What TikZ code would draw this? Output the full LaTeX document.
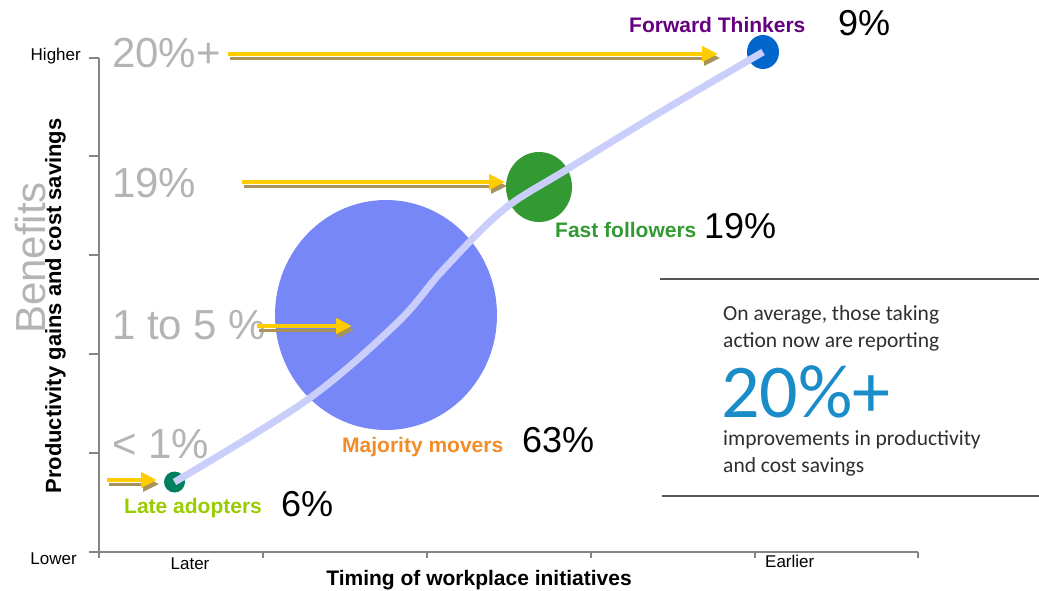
\documentclass[tikz,border=0pt]{standalone}
\usepackage{fontspec}
\setmainfont{Liberation Sans}
\newfontfamily\boxfont{Carlito}
\usepackage{xcolor}
\usetikzlibrary{arrows.meta,shapes.geometric,positioning}

\definecolor{axisgray}{HTML}{858585}
\definecolor{lvlgray}{HTML}{B4B4B4}
\definecolor{ftblue}{HTML}{0066CC}
\definecolor{ffgreen}{HTML}{339933}
\definecolor{mmblue}{HTML}{7787F7}
\definecolor{ladot}{HTML}{00805F}
\definecolor{curveblue}{HTML}{C9CFFA}
\definecolor{ftpurple}{HTML}{660080}
\definecolor{mmorange}{HTML}{F28C28}
\definecolor{latext}{HTML}{99CC00}
\definecolor{arrowyellow}{HTML}{FFCC00}
\definecolor{shadowbrown}{HTML}{A89458}
\definecolor{rulegray}{HTML}{555555}
\definecolor{boxtext}{HTML}{2E2E2E}
\definecolor{boxblue}{HTML}{1A8CC8}

\tikzset{
  fsize/.style={font=\fontsize{#1}{#1}\selectfont},
  axis/.style={draw=axisgray, line width=2pt},
  axlbl/.style={fsize=17, inner sep=0pt},
  axtitle/.style={font=\fontsize{21}{21}\selectfont\bfseries, inner sep=0pt},
  lvl/.style={fsize=42, text=lvlgray, inner sep=0pt},
  blob/.style={ellipse, inner sep=0pt, draw=none},
  cat/.style={font=\fontsize{21}{21}\selectfont\bfseries, inner sep=0pt},
  pct/.style={fsize=36, inner sep=0pt},
  yarrow/.style={draw=arrowyellow, line width=4pt, -{Triangle[length=16pt,width=15pt]}},
  yshadow/.style={draw=shadowbrown, line width=3pt, -{Triangle[length=16pt,width=15pt]},
    transform canvas={shift={(2pt,-4pt)}}},
  curve/.style={draw=curveblue, line width=7pt},
  rule/.style={draw=rulegray, line width=2pt},
  boxtxt/.style={font=\boxfont\fontsize{21.5}{21.5}\selectfont, text=boxtext, inner sep=0pt}
}

\begin{document}
\begin{tikzpicture}[x=1pt, y=-1pt, line join=round]
\useasboundingbox (0,0) rectangle (1039,590);

% axes
\coordinate (top) at (99,58);
\coordinate (o) at (99,552);
\coordinate (xend) at (918,552);
\draw[axis] (top) -- (o) -- (xend);
\foreach \y in {58,156,255,354,453,552} \draw[axis] (89,\y) -- (99,\y);
\foreach \x in {99,263,427,591,755,918} \draw[axis] (\x,552) -- (\x,558);

\node[axlbl, anchor=base east] (hi) at (81,60) {Higher};
\node[axlbl, anchor=base east] (lo) at (77,564) {Lower};
\node[axlbl, anchor=base] (later) at (190,569) {Later};
\node[axlbl, anchor=base west] (earlier) at (765,567) {Earlier};
\node[axtitle, anchor=base] (xtitle) at (479,585) {Timing of workplace initiatives};
\node[axtitle, font=\fontsize{22}{22}\selectfont\bfseries, rotate=90, anchor=base] (ytitle) at (61,306) {Productivity gains and cost savings};
\node[lvl, rotate=90, anchor=base] (benefits) at (45,258) {Benefits};

% benefit levels
\node[lvl, anchor=base west] (l20) at (112,67) {20\%+};
\node[lvl, anchor=base west] (l19) at (112,197) {19\%};
\node[lvl, anchor=base west] (l15) at (112,339) {1 to 5 \%};
\node[lvl, anchor=base west] (l1) at (112,458) {< 1\%};

% groups
\node[blob, fill=mmblue, minimum width=222pt, minimum height=230pt] (mm) at (386,315) {};
\node[blob, fill=ffgreen, minimum width=66pt, minimum height=70pt] (ff) at (539,187) {};
\node[blob, fill=ftblue, minimum width=32pt, minimum height=34pt] (ft) at (763,52) {};
\node[blob, fill=ladot, minimum width=21pt, minimum height=21pt] (la) at (174.5,482) {};

\draw[curve] plot[smooth, tension=0.55] coordinates {(la.center) (307,400) (397,323) (443,270)
  (503,210) (566,170) (659,113) (ft.center)};

\node[cat, text=ftpurple, anchor=base west] (ftlbl) at (629,32) {Forward Thinkers};
\node[pct, anchor=base west] (ftpct) at (838,35) {9\%};
\node[cat, text=ffgreen, anchor=base west] (fflbl) at (555,237) {Fast followers};
\node[pct, anchor=base west] (ffpct) at (704,238) {19\%};
\node[cat, text=mmorange, anchor=base west] (mmlbl) at (342,452) {Majority movers};
\node[pct, anchor=base west] (mmpct) at (522,452) {63\%};
\node[cat, text=latext, anchor=base west] (lalbl) at (124,513) {Late adopters};
\node[pct, anchor=base west] (lapct) at (281,516) {6\%};

% yellow arrows
\coordinate (a1s) at (228,54);  \coordinate (a1e) at (718,54);
\coordinate (a2s) at (242,182); \coordinate (a2e) at (505,182);
\coordinate (a3s) at (257,326); \coordinate (a3e) at (352,326);
\coordinate (a4s) at (107,480); \coordinate (a4e) at (157,480);
\foreach \s/\e in {a1s/a1e, a2s/a2e, a3s/a3e, a4s/a4e} {
  \draw[yshadow] (\s) -- (\e);
  \draw[yarrow] (\s) -- (\e);
}

% side box
\coordinate (bxtl) at (660,279); \coordinate (bxtr) at (1039,279);
\coordinate (bxbl) at (662,496); \coordinate (bxbr) at (1039,496);
\draw[rule] (bxtl) -- (bxtr);
\draw[rule] (bxbl) -- (bxbr);
\node[boxtxt, anchor=base west] (bt1) at (723,320) {On average, those taking};
\node[boxtxt, anchor=base west] (bt2) at (723,347) {action now are reporting};
\node[boxtxt, anchor=base west, text=boxblue, text depth=0pt, font=\boxfont\fontsize{76}{76}\selectfont] (bt3) at (721,417) {20\%+};
\node[boxtxt, anchor=base west] (bt4) at (723,445) {improvements in productivity};
\node[boxtxt, anchor=base west] (bt5) at (723,472) {and cost savings};

\end{tikzpicture}
\end{document}
